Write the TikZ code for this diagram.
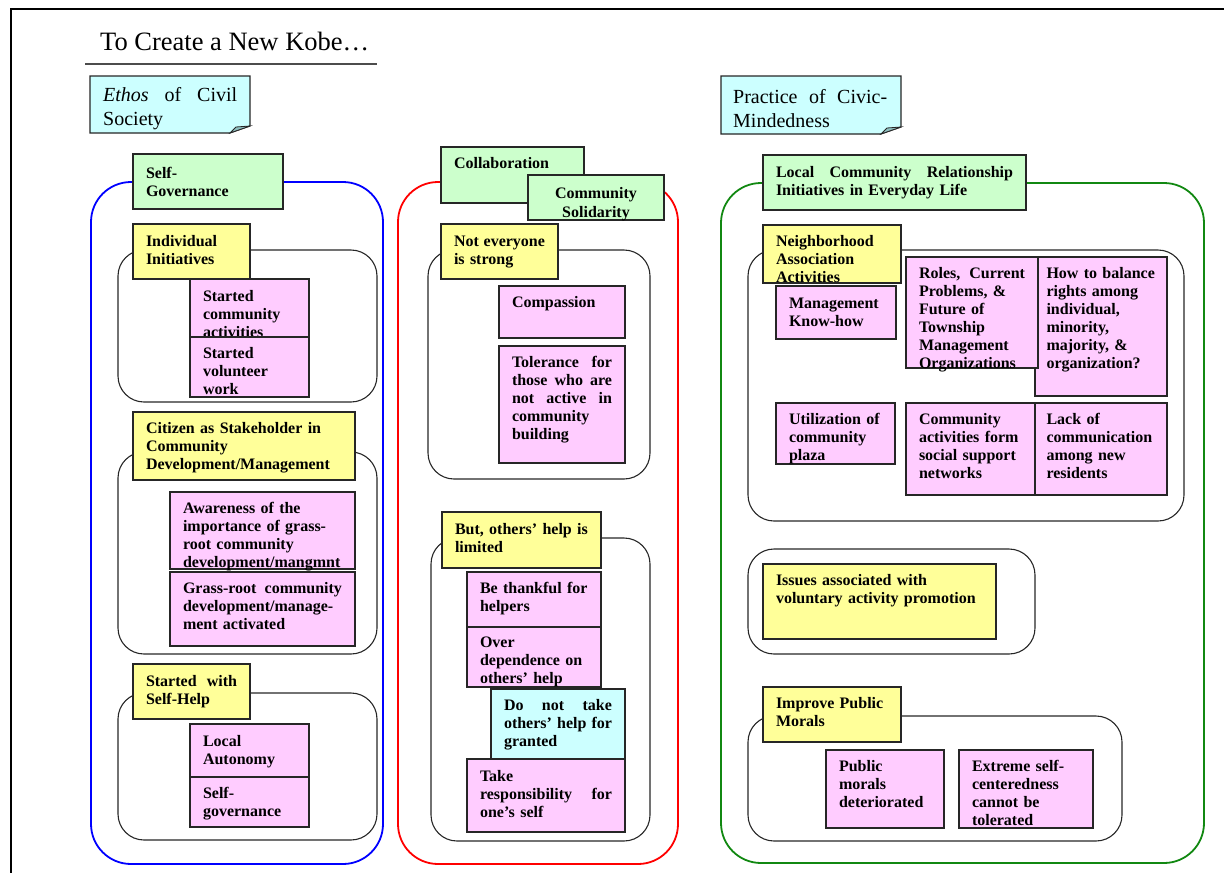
\documentclass[tikz,border=0pt]{standalone}
\usepackage{fontspec}
\usepackage{tikz}
\setmainfont{Liberation Serif}
\definecolor{cardpink}{HTML}{FFCCFF}
\definecolor{cardyellow}{HTML}{FFFF99}
\definecolor{cardgreen}{HTML}{CCFFCC}
\definecolor{cardcyan}{HTML}{CCFFFF}
\definecolor{foldcyan}{HTML}{8FBFBF}
\definecolor{framegreen}{HTML}{118811}
\newcommand\jl[2]{\makebox[#1][s]{\spaceskip=\fontdimen2\font plus 1fil\relax #2}}
\hyphenpenalty=10000
\exhyphenpenalty=10000

\begin{document}
\begin{tikzpicture}[x=1pt,y=-1pt,
	card/.style={draw=black!85,line width=1.1pt,inner xsep=13pt,inner ysep=0pt,outer sep=0pt,anchor=north west,align=left,text height=22pt,font=\fontsize{16}{18}\selectfont\bfseries},
	pinkcard/.style={card,fill=cardpink},
	yellowcard/.style={card,fill=cardyellow},
	greencard/.style={card,fill=cardgreen},
	cyancard/.style={card,fill=cardcyan},
	group/.style={draw=black!85,line width=1.1pt,rounded corners=26pt},
	outer/.style={line width=1.8pt,rounded corners=40pt},
	notebox/.style={draw=black!85,line width=1.1pt,fill=cardcyan},
	notefold/.style={draw=black!85,line width=0.8pt,fill=foldcyan},
	notetext/.style={anchor=base west,inner sep=0pt,align=left,font=\fontsize{20}{24}\selectfont}]
	\useasboundingbox (0,0) rectangle (1224,873);
	\draw[line width=2pt] (11,873) -- (11,9) -- (1224,9);

	\node[anchor=base west,inner sep=0pt,font=\fontsize{26.5}{30}\selectfont] (TTL) at (100,50) {To Create a New Kobe…};
	\draw[black!70,line width=1.3pt] (85,64) -- (377,64);

	\draw[notebox] (90,76) -- (250,76) -- (250,126) -- (230,133) -- (90,133) -- cycle;
	\draw[notefold] (230,133) -- (236,127) -- (250,126) -- cycle;
	\node[notetext,text width=134pt] (ETH) at (103,101) {\jl{134pt}{\textit{Ethos} of Civil}\\Society};

	\draw[notebox] (721,76) -- (901,76) -- (901,127) -- (881,134) -- (721,134) -- cycle;
	\draw[notefold] (881,134) -- (887,128) -- (901,127) -- cycle;
	\node[notetext,text width=154pt] (PCM) at (733,103) {\jl{154pt}{Practice of Civic-}\\Mindedness};

	\draw[outer,draw=blue] (91,182) rectangle (383,864);
	\node[greencard,text width=124pt,text height=24pt,text depth=31pt] (SG) at (133,154) {Self-\\Governance};
	\draw[group] (118,250) rectangle (377,402);
	\node[yellowcard,text width=91pt,text depth=33pt] (II) at (133,224) {Individual\\Initiatives};
	\node[pinkcard,text width=93pt,text depth=36pt] (SCA) at (190,279) {Started\\community\\activities};
	\node[pinkcard,text width=93pt,text height=21pt,text depth=39pt] (SVW) at (190,337) {Started\\volunteer\\work};
	\draw[group] (118,452) rectangle (377,654);
	\node[yellowcard,text width=196pt,text height=21pt,text depth=47pt] (CS) at (133,412) {Citizen as Stakeholder in\\Community\\Development/Management};
	\node[pinkcard,text width=159pt,text height=21pt,text depth=56pt] (AW) at (170,492) {Awareness of the\\importance of grass-\\root community\\development/mangmnt};
	\node[pinkcard,text width=159pt,text height=21pt,text depth=53pt] (GR) at (170,572) {\jl{159pt}{Grass-root community}\\development/manage-\\ment activated};
	\draw[group] (118,693) rectangle (377,840);
	\node[yellowcard,text width=91pt,text depth=33pt] (SH) at (133,664) {\jl{91pt}{Started with}\\Self-Help};
	\node[pinkcard,text width=93pt,text depth=31pt] (LA) at (190,724) {Local\\Autonomy};
	\node[pinkcard,text width=93pt,text height=21pt,text depth=29pt] (SGV) at (190,777) {Self-\\governance};

	\draw[outer,draw=red] (398,182) rectangle (678,864);
	\node[greencard,text width=117pt,text height=21pt,text depth=35pt] (CO) at (441,147) {Collaboration};
	\node[greencard,text width=110pt,text height=23pt,text depth=22pt,align=center] (CSO) at (528,175) {Community\\[1pt]Solidarity};
	\draw[group] (428,250) rectangle (650,479);
	\node[yellowcard,text width=91pt,text depth=33pt] (NE) at (441,224) {\jl{91pt}{Not everyone}\\is strong};
	\node[pinkcard,text width=100pt,text height=21pt,text depth=31pt] (CP) at (499,286) {Compassion};
	\node[pinkcard,text width=100pt,text height=21pt,text depth=96pt] (TL) at (499,346) {\jl{100pt}{Tolerance for}\\\jl{100pt}{those who are}\\\jl{100pt}{not active in}\\community\\building};
	\draw[group] (431,538) rectangle (650,841);
	\node[yellowcard,text width=133pt,text depth=34pt] (LM) at (442,512) {But, others’ help is\\limited};
	\node[pinkcard,text width=108pt,text height=21pt,text depth=34pt] (BT) at (467,572) {Be thankful for\\helpers};
	\node[pinkcard,text width=108pt,text height=20pt,text depth=40pt] (OD) at (467,627) {Over\\dependence on\\others’ help};
	\node[cyancard,text width=108pt,text height=21pt,text depth=49pt] (DN) at (491,689) {\jl{108pt}{Do not take}\\\jl{108pt}{others’ help for}\\granted};
	\node[pinkcard,text width=132pt,text depth=51pt] (TR) at (467,759) {Take\\\jl{132pt}{responsibility for}\\one’s self};

	\draw[outer,draw=framegreen] (721,183) rectangle (1204,863);
	\node[greencard,text width=237pt,text depth=33pt] (LC) at (763,155) {\jl{237pt}{Local Community Relationship}\\Initiatives in Everyday Life};
	\draw[group] (748,250) rectangle (1184,521);
	\node[yellowcard,text width=112pt,text height=21pt,text depth=37pt] (NA) at (763,225) {Neighborhood\\Association\\Activities};
	\node[pinkcard,text width=94pt,text depth=31pt] (MK) at (776,286) {Management\\Know-how};
	\node[pinkcard,inner xsep=11.5pt,text width=109pt,text height=21pt,text depth=118pt] (HB) at (1035,257) {How to balance\\rights among\\individual,\\minority,\\majority, \&\\organization?};
	\node[pinkcard,text width=106pt,text height=21pt,text depth=90pt] (RC) at (906,257) {\jl{106pt}{Roles, Current}\\Problems, \&\\Future of\\Township\\Management\\Organizations};
	\node[pinkcard,text width=93pt,text height=21pt,text depth=40pt] (UC) at (776,403) {Utilization of\\community\\plaza};
	\node[pinkcard,text width=103pt,text height=21pt,text depth=71pt] (CA) at (906,403) {Community\\activities form\\social support\\networks};
	\node[pinkcard,inner xsep=11.5pt,text width=109pt,text height=21pt,text depth=71pt] (LN) at (1035,403) {Lack of\\communication\\among new\\residents};
	\draw[group] (748,549) rectangle (1035,654);
	\node[yellowcard,text width=207pt,text height=21pt,text depth=54pt] (IV) at (763,564) {Issues associated with\\voluntary activity promotion};
	\draw[group] (748,716) rectangle (1122,841);
	\node[yellowcard,text width=112pt,text height=21pt,text depth=34pt] (IP) at (763,687) {Improve Public\\Morals};
	\node[pinkcard,text width=92pt,text height=21pt,text depth=57pt] (PM) at (826,750) {Public\\morals\\deteriorated};
	\node[pinkcard,text width=108pt,text height=21pt,text depth=57pt] (ES) at (959,750) {Extreme self-\\centeredness\\cannot be\\tolerated};
\end{tikzpicture}
\end{document}
